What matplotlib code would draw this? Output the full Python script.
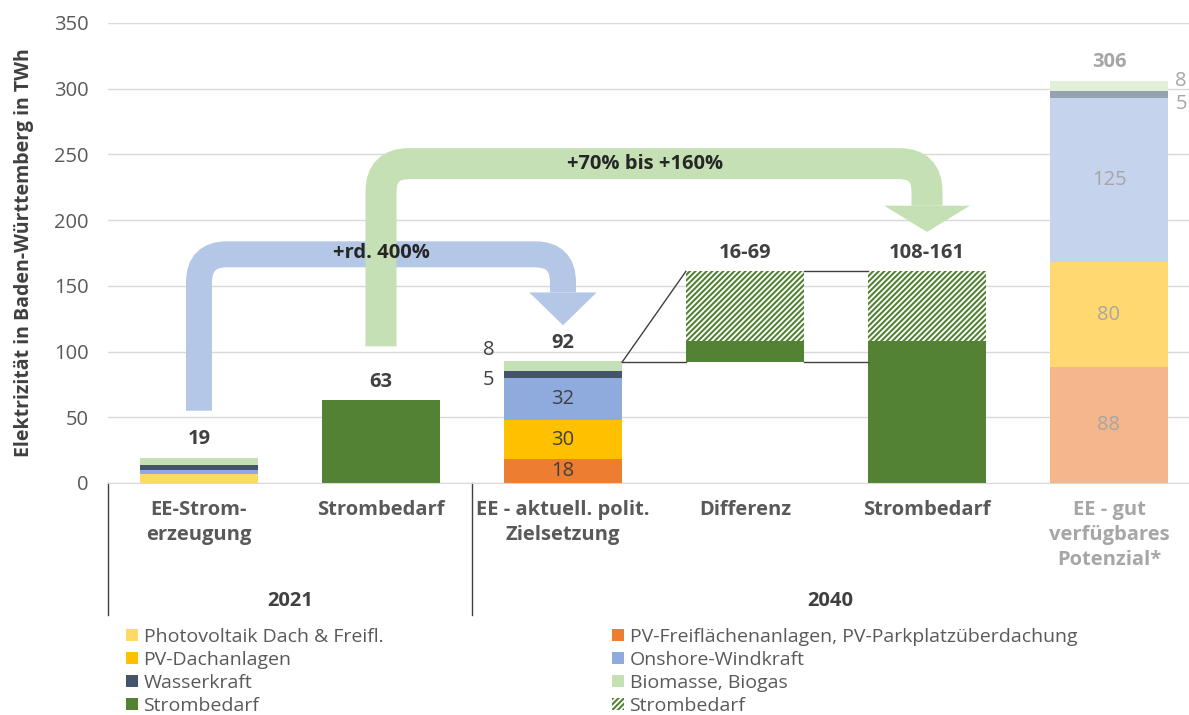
import numpy as np
import matplotlib
matplotlib.use('Agg')
import matplotlib.pyplot as plt
from matplotlib.patches import Patch, PathPatch, Polygon
from matplotlib.path import Path
from matplotlib.transforms import blended_transform_factory

plt.rcParams['font.family'] = ['Open Sans', 'DejaVu Sans']
plt.rcParams['hatch.linewidth'] = 1.5

# Categories and data (TWh)
categories = ['EE-Strom-\nerzeugung', 'Strombedarf', 'EE - aktuell. polit.\nZielsetzung',
              'Differenz', 'Strombedarf', 'EE - gut\nverfügbares\nPotenzial*']
years = ['2021', '2040']
totals = ['19', '63', '92', '16-69', '108-161', '306']

pv_2021 = [6.5, 0, 0, 0, 0, 0]          # Photovoltaik Dach & Freifl.
pv_frei = [0, 0, 18, 0, 0, 88]           # PV-Freiflächen / Parkplatz
pv_dach = [0, 0, 30, 0, 0, 80]
wind = [3.3, 0, 32, 0, 0, 125]
wasser = [4, 0, 5, 0, 0, 5]
biomasse = [5.2, 0, 7.5, 0, 0, 8]
bedarf = [0, 63, 0, 16, 108, 0]
bedarf_range = [0, 0, 0, 53, 53, 0]
offset = [0, 0, 0, 92, 0, 0]

# colours: normal, faded (for the potential bar)
series = [
    ('Photovoltaik Dach & Freifl.', pv_2021, '#FFD966', '#FFD966'),
    ('PV-Freiflächenanlagen, PV-Parkplatzüberdachung', pv_frei, '#ED7D31', '#F4B68A'),
    ('PV-Dachanlagen', pv_dach, '#FFC000', '#FFD96F'),
    ('Onshore-Windkraft', wind, '#8FAADC', '#C5D3EC'),
    ('Wasserkraft', wasser, '#44546A', '#97A2B0'),
    ('Biomasse, Biogas', biomasse, '#C5E0B4', '#E2F0D9'),
]
green = '#548235'
dark = '#404040'
grey_txt = '#595959'
faded_txt = '#A6A6A6'
fs = 14.5

fig = plt.figure(figsize=(11.89, 7.15), dpi=100)
ax = fig.add_axes([108 / 1189, 1 - 483 / 715, 1081 / 1189, 460 / 715])

x = np.arange(len(categories))
w = 0.65
bottom = np.array(offset, dtype=float)
handles = {}
for name, vals, c, cf in series:
    cols = [c] * 5 + [cf]
    ax.bar(x, vals, w, bottom=bottom, color=cols, zorder=2, linewidth=0)
    handles[name] = Patch(facecolor=c, label=name)
    bottom += np.array(vals)
ax.bar(x, bedarf, w, bottom=bottom, color=green, zorder=2, linewidth=0)
bottom += np.array(bedarf)
ax.bar(x, bedarf_range, w, bottom=bottom, color='white', edgecolor=green,
       hatch='//////', zorder=2, linewidth=0)
bottom += np.array(bedarf_range)

# value labels inside bars
cum = np.array(offset, dtype=float)
for name, vals, c, cf in series:
    for i in (2, 5):
        v = vals[i]
        if v >= 15:
            ax.text(i, cum[i] + v / 2, f'{v:.0f}', ha='center', va='center', fontsize=fs,
                    color=dark if i == 2 else faded_txt, zorder=5)
    cum += np.array(vals)

# small segments labelled beside bars
ax.text(2 - w / 2 - 0.05, 101, '8', ha='right', va='center', fontsize=fs, color=dark)
ax.text(2 - w / 2 - 0.05, 78, '5', ha='right', va='center', fontsize=fs, color=dark)
ax.text(5 + w / 2 + 0.04, 306, '8', ha='left', va='center', fontsize=fs, color=faded_txt)
ax.text(5 + w / 2 + 0.04, 288, '5', ha='left', va='center', fontsize=fs, color=faded_txt)

# totals above bars
for i, t in enumerate(totals):
    ax.text(i, bottom[i] + 6.5, t, ha='center', va='bottom', fontsize=fs, fontweight='bold',
            color=faded_txt if i == 5 else dark)

# connector lines
lc = dict(color=dark, lw=1, zorder=3)
ax.plot([2 + w / 2, 3 - w / 2], [92, 161], **lc)
ax.plot([2 + w / 2, 3 - w / 2], [92, 92], **lc)
ax.plot([3 + w / 2, 4 - w / 2], [161, 161], **lc)
ax.plot([3 + w / 2, 4 - w / 2], [92, 92], **lc)


def bent_arrow(x0, x1, y0, ytop, yhead, ytip, head_w, lw_px, color, z):
    rx, ry = 28 / 182, 28 / 1.314
    verts = [(x0, y0), (x0, ytop - ry), (x0, ytop), (x0 + rx, ytop),
             (x1 - rx, ytop), (x1, ytop), (x1, ytop - ry), (x1, yhead)]
    codes = [Path.MOVETO, Path.LINETO, Path.CURVE3, Path.CURVE3,
             Path.LINETO, Path.CURVE3, Path.CURVE3, Path.LINETO]
    ax.add_patch(PathPatch(Path(verts, codes), fill=False, edgecolor=color,
                           lw=lw_px * 0.72, capstyle='butt', joinstyle='miter', zorder=z))
    ax.add_patch(Polygon([(x1 - head_w, yhead), (x1 + head_w, yhead), (x1, ytip)],
                         closed=True, facecolor=color, edgecolor='none', zorder=z))


bent_arrow(0, 2, 55, 174, 145, 120, 0.185, 26, '#B4C7E7', 3)
bent_arrow(1, 4, 104, 243, 211, 191, 0.235, 31, '#C5E0B4', 4)
ax.text(1.0, 175, '+rd. 400%', ha='center', va='center', fontsize=14.5,
        fontweight='bold', color='#262626', zorder=6)
ax.text(2.45, 243, '+70% bis +160%', ha='center', va='center', fontsize=14.5,
        fontweight='bold', color='#262626', zorder=6)

# axes styling
xmax = -0.5 + 1081 / 182
ax.set_xlim(-0.5, xmax)
ax.set_ylim(0, 350)
ax.set_yticks(np.arange(0, 351, 50))
ax.set_xticks([])
ax.grid(axis='y', color='#D9D9D9', lw=1, zorder=0)
ax.set_axisbelow(True)
for s in ('top', 'right', 'left'):
    ax.spines[s].set_visible(False)
ax.spines['bottom'].set_color('#D9D9D9')
ax.tick_params(axis='y', length=0, pad=14, labelsize=fs, labelcolor=grey_txt)
ax.set_ylabel('Elektrizität in Baden-Württemberg in TWh', fontsize=14,
              fontweight='bold', color=dark)
ax.yaxis.set_label_coords(-74 / 1081, 0.5)

# category labels and year groups
tr = blended_transform_factory(ax.transData, fig.transFigure)
for i, c in enumerate(categories):
    ax.text(i, 1 - 500 / 715, c, transform=tr, ha='center', va='top', fontsize=fs,
            fontweight='bold', linespacing=1.33,
            color=faded_txt if i == 5 else grey_txt)
for xs in (-0.5, 1.5):
    ax.plot([xs, xs], [1 - 483 / 715, 1 - 615 / 715], transform=tr, color=dark,
            lw=1, clip_on=False)
ax.text(0.5, 1 - 601 / 715, years[0], transform=tr, ha='center', va='center',
        fontsize=fs, fontweight='bold', color=dark)
ax.text((1.5 + xmax) / 2, 1 - 601 / 715, years[1], transform=tr, ha='center',
        va='center', fontsize=fs, fontweight='bold', color=dark)

# legend
col1 = [handles['Photovoltaik Dach & Freifl.'], handles['PV-Dachanlagen'],
        handles['Wasserkraft'], Patch(facecolor=green, label='Strombedarf')]
col2 = [handles['PV-Freiflächenanlagen, PV-Parkplatzüberdachung'],
        handles['Onshore-Windkraft'], handles['Biomasse, Biogas'],
        Patch(facecolor='white', edgecolor=green, hatch='//////', lw=0, label='Strombedarf')]
lg = dict(loc='upper left', frameon=False, fontsize=14, labelcolor=grey_txt,
          borderpad=0, borderaxespad=0, labelspacing=0.26, handlelength=0.6,
          handleheight=0.6, handletextpad=0.3)
fig.legend(handles=col1, bbox_to_anchor=(126 / 1189, 1 - 628 / 715), **lg)
fig.legend(handles=col2, bbox_to_anchor=(612 / 1189, 1 - 628 / 715), **lg)

fig.savefig('out.png', dpi=100)
